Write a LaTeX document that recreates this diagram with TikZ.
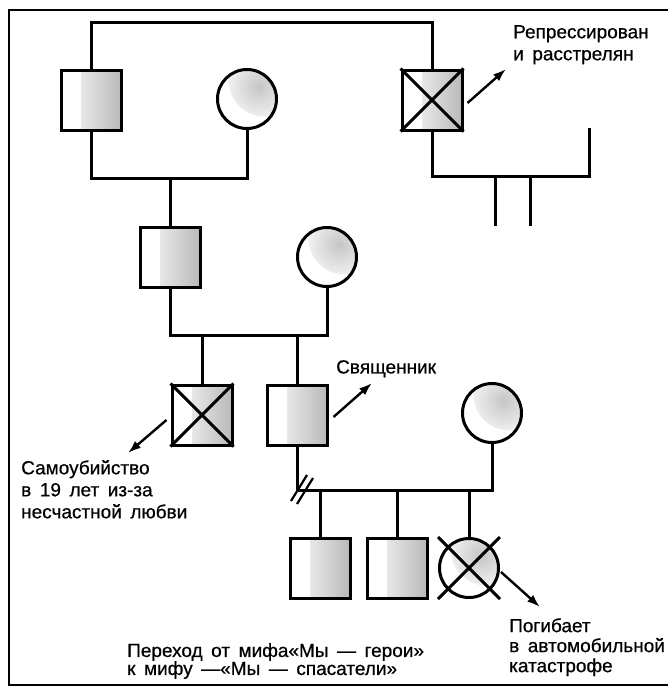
\documentclass[tikz,border=0pt]{standalone}
\usepackage{fontspec}
\setmainfont{Liberation Sans}
\newfontfamily\notefont{Liberation Sans}[FakeBold=0.6]
\usetikzlibrary{calc, positioning, arrows.meta}
\newcommand\widespace{\spaceskip=0.45em\relax}

\tikzset{
  male/.style={draw, line width=3pt, minimum size=60pt, inner sep=0pt,
    path picture={\shade[left color=white, right color=gray!55]
      ([xshift=-40pt]path picture bounding box.north east) rectangle (path picture bounding box.south east);}},
  female/.style={circle, draw, line width=3pt, minimum size=59pt, inner sep=0pt,
    path picture={\shade[inner color=gray!45, outer color=white]
      ([shift={(-12pt,-11pt)}]path picture bounding box.north east) circle (36pt);}},
  link/.style={line width=3pt},
  note/.style={font={\notefont\fontsize{19}{22}\selectfont},
    align=left, anchor=north west, inner sep=0pt},
  pointer/.style={line width=2.4pt, -{Latex[length=13pt, width=9pt]}},
}

\begin{document}
\begin{tikzpicture}[x=1pt, y=-1pt]
\useasboundingbox (0,0) rectangle (667,688);
\draw[line width=1.4pt] (672,10) -- (9,10) -- (9,685) -- (672,685);

\coordinate (lv1) at (0,22);
\coordinate (lv2) at (0,178);
\coordinate (lv2b) at (0,176);
\coordinate (lv3) at (0,335);
\coordinate (lv4) at (0,490);

\node[male] (gf) at (91,100) {};
\node[female] (gm) at (247,99) {};
\node[male] (rep) at (432,100) {};
\node[male] (f) at (170,257) {};
\node[female] (m) at (327,257) {};
\node[male] (suic) at (202,415) {};
\node[male] (pr) at (297,415) {};
\node[female] (w) at (492,413) {};
\node[male] (s1) at (320,568) {};
\node[male] (s2) at (397,568) {};
\node[female] (d) at (469,568) {};

\draw[link] (rep.north west) -- (rep.south east) (rep.north east) -- (rep.south west);
\draw[link] (suic.north west) -- (suic.south east) (suic.north east) -- (suic.south west);
\draw[link] ([shift={(-31,-31)}]d.center) -- ([shift={(31,31)}]d.center)
  ([shift={(31,-31)}]d.center) -- ([shift={(-31,31)}]d.center);

\draw[link] (gf.north) -- (gf.north |- lv1) -| (rep.north);
\draw[link] (gf.south) -- (gf.south |- lv2) -| (gm.south);
\draw[link] (f.north) -- (f.north |- lv2);

\coordinate (sib-c) at (589,128);
\coordinate (sib-a) at (495,226);
\coordinate (sib-b) at (530,226);
\draw[link] (rep.south) |- (lv2b -| sib-c) -- (sib-c);
\draw[link] (sib-a |- lv2b) -- (sib-a);
\draw[link] (sib-b |- lv2b) -- (sib-b);

\draw[link] (f.south) -- (f.south |- lv3) -| (m.south);
\draw[link] (suic.north |- lv3) -- (suic.north);
\draw[link] (pr.north |- lv3) -- (pr.north);

\draw[link] (pr.south) -- (pr.south |- lv4) -| (w.south);
\coordinate (div) at (pr.south |- lv4);
\draw[line width=2.2pt] ([shift={(-6,11)}]div) -- ([shift={(10,-15)}]div)
  ([shift={(0,14)}]div) -- ([shift={(16,-12)}]div);
\draw[link] (s1.north |- lv4) -- (s1.north);
\draw[link] (s2.north |- lv4) -- (s2.north);
\draw[link] (d.north |- lv4) -- (d.north);

\node[note] (rep-lab) at (513,25) {\widespace Репрессирован\\\widespace и расстрелян};
\node[note] (pr-lab) at (336,360) {Священник};
\node[note] (suic-lab) at (21,460) {\widespace Самоубийство\\\widespace в 19 лет из-за\\\widespace несчастной любви};
\node[note, font={\notefont\fontsize{19}{20}\selectfont}] (d-lab) at (509,618) {\widespace Погибает\\\widespace в автомобильной\\\widespace катастрофе};
\node[note, font={\notefont\fontsize{19}{18}\selectfont}] (myth) at (127,643) {\widespace Переход от мифа«Мы — герои»\\\widespace к мифу —«Мы — спасатели»};

\coordinate (rep-tip) at (506,69);
\coordinate (pr-tip) at (372,383);
\coordinate (suic-tip) at (128,453);
\coordinate (d-tip) at (540,607);
\draw[pointer] ([shift={(4,3)}]rep.east) -- (rep-tip);
\draw[pointer] ([shift={(5,2)}]pr.east) -- (pr-tip);
\draw[pointer] ([shift={(-4,5)}]suic.west) -- (suic-tip);
\draw[pointer] ([shift={(1,4)}]d.east) -- (d-tip);
\end{tikzpicture}
\end{document}
